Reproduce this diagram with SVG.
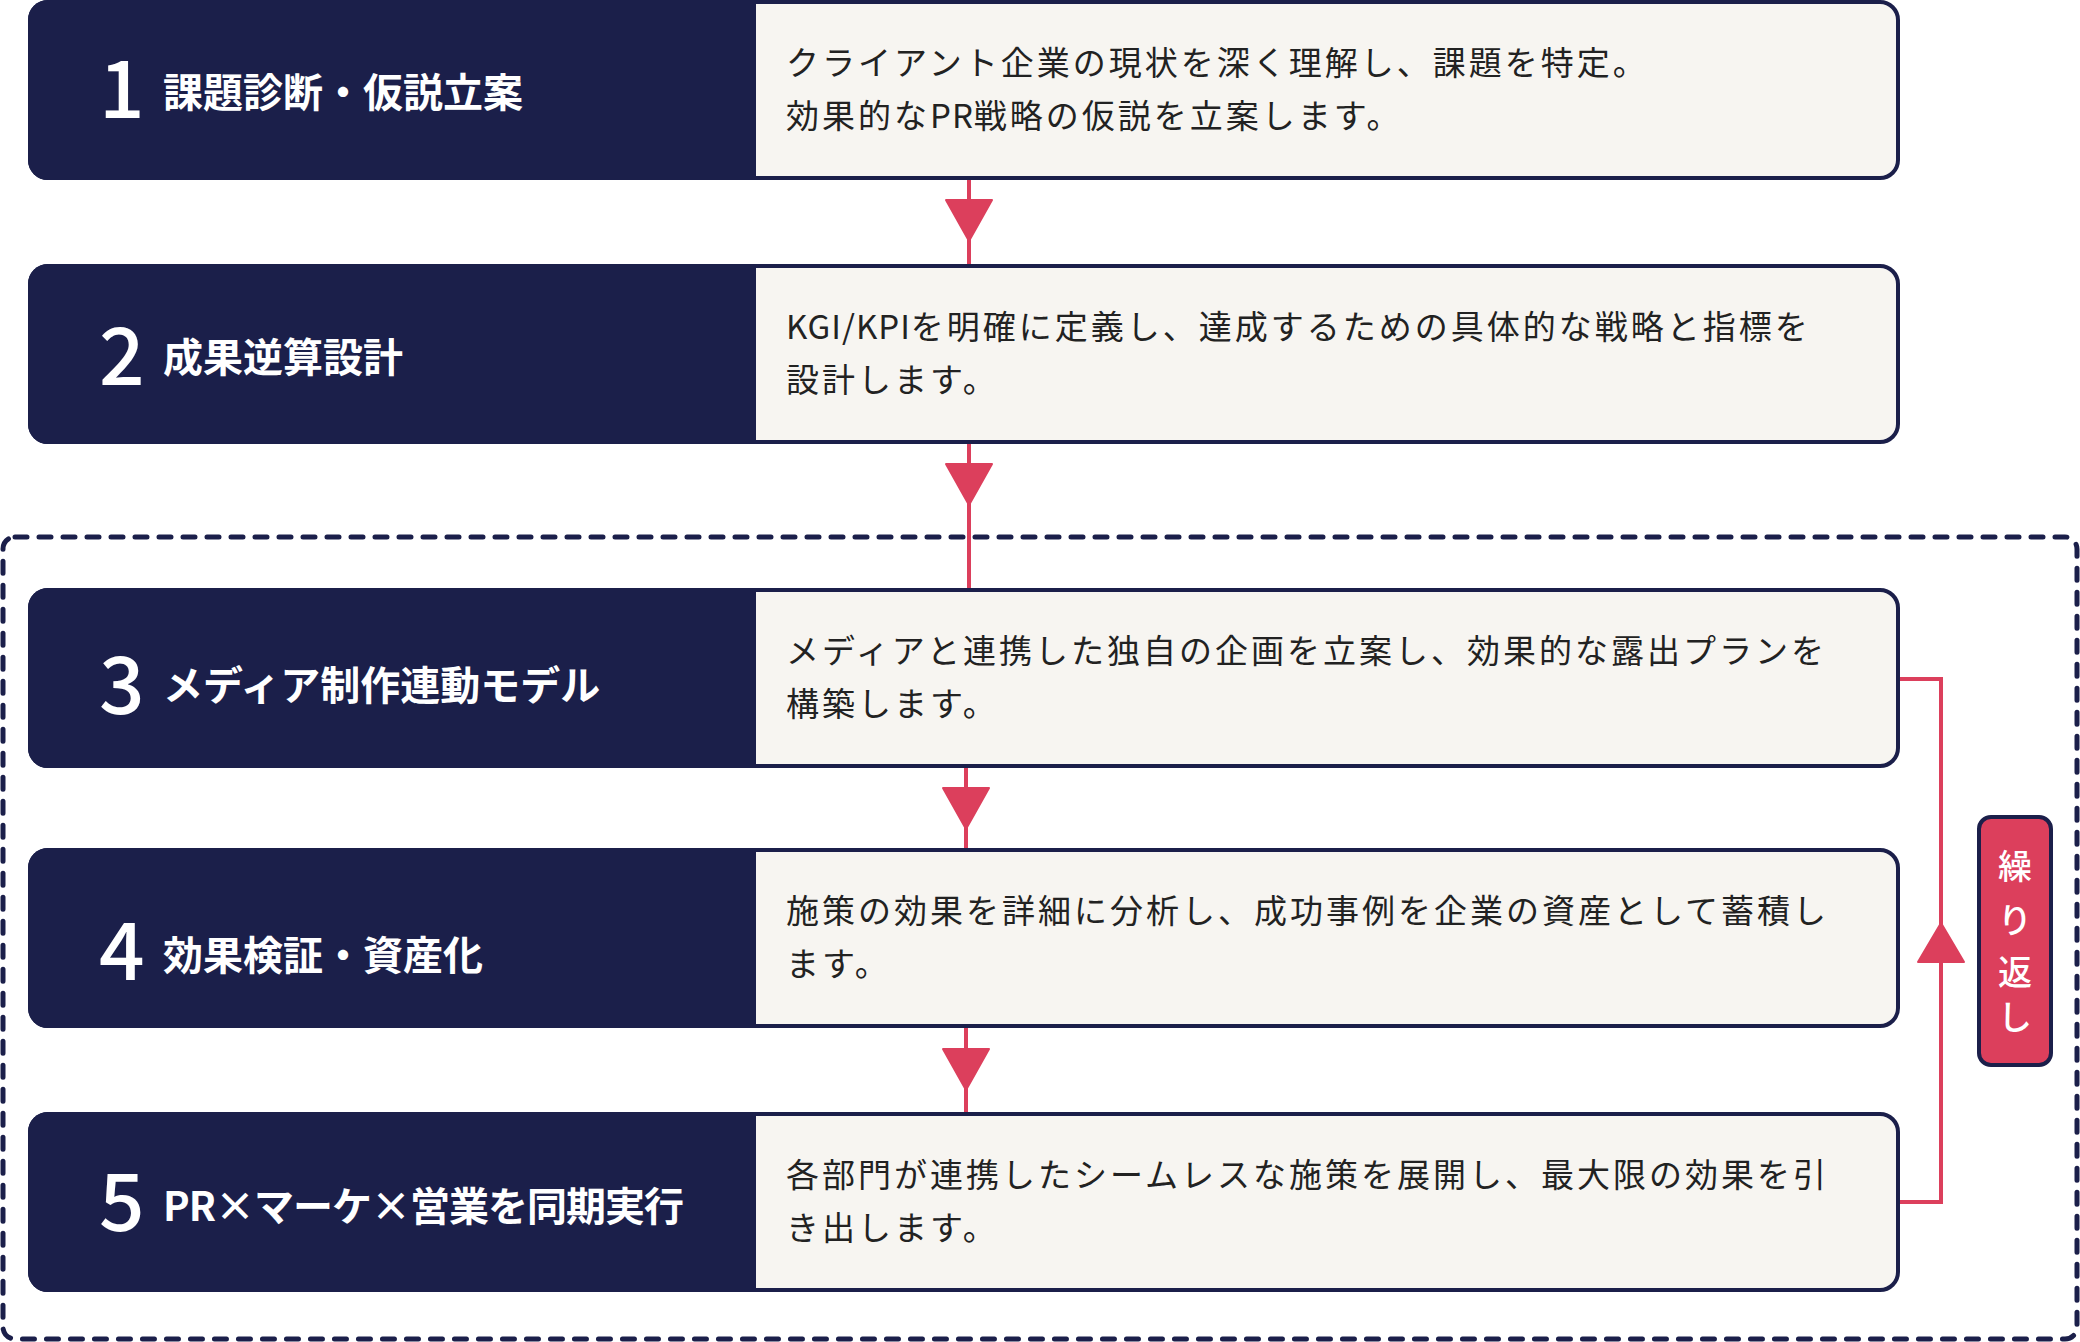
<svg xmlns="http://www.w3.org/2000/svg" width="2080" height="1342" viewBox="0 0 2080 1342">
<style>
.panel{fill:#F7F5F1;stroke:#1B1F4A;stroke-width:4}
.dark{fill:#1B1F4A}
.num{font-family:"Noto Sans CJK JP","Noto Sans",sans-serif;font-size:80px;font-weight:500;fill:#FFFFFF}
.title{font-family:"Noto Sans CJK JP",sans-serif;font-size:40px;font-weight:700;fill:#FFFFFF}
.desc{font-family:"Noto Sans CJK JP",sans-serif;font-size:33px;font-weight:400;fill:#222222;letter-spacing:3px}
.lat{letter-spacing:1px}
.conn{stroke:#DC3F5C;stroke-width:4;fill:none}
.head{fill:#DC3F5C;stroke:#DC3F5C;stroke-width:2;stroke-linejoin:round}
.badge{fill:#DC3F5C;stroke:#1B1F4A;stroke-width:4}
.btxt{font-family:"Noto Sans CJK JP",sans-serif;font-size:34px;font-weight:500;fill:#FFFFFF;text-anchor:middle}
</style>
<rect width="2080" height="1342" fill="#FFFFFF"/>
<rect id="loop-frame" x="3" y="537" width="2074" height="802" rx="12" fill="none" stroke="#1B1F4A" stroke-width="5" stroke-dasharray="12 12" stroke-linecap="round"/>
<g id="connectors">
<line class="conn" x1="969" y1="178" x2="969" y2="266"/>
<polygon class="head" points="946,200 992,200 969,241"/>
<line class="conn" x1="969" y1="442" x2="969" y2="590"/>
<polygon class="head" points="946,464 992,464 969,505"/>
<line class="conn" x1="966" y1="766" x2="966" y2="850"/>
<polygon class="head" points="943,788 989,788 966,829"/>
<line class="conn" x1="966" y1="1026" x2="966" y2="1114"/>
<polygon class="head" points="943,1049 989,1049 966,1090"/>
<path class="conn" d="M1898 679 H1941 V1202 H1898"/>
<polygon class="head" points="1918,962 1964,962 1941,923"/>
</g>
<g id="node1">
<rect class="panel" x="30" y="2" width="1868" height="176" rx="18"/>
<path class="dark" d="M48 0 H756 V180 H48 A20 20 0 0 1 28 160 V20 A20 20 0 0 1 48 0 Z"/>
<text class="num" x="99" y="118">1</text>
<text class="title" x="163" y="107">課題診断・仮説立案</text>
<text class="desc" x="786" y="74.5">クライアント企業の現状を深く理解し、課題を特定。</text>
<text class="desc" x="786" y="127.5">効果的な<tspan class="lat">PR</tspan>戦略の仮説を立案します。</text>
</g>
<g id="node2">
<rect class="panel" x="30" y="266" width="1868" height="176" rx="18"/>
<path class="dark" d="M48 264 H756 V444 H48 A20 20 0 0 1 28 424 V284 A20 20 0 0 1 48 264 Z"/>
<text class="num" x="99" y="385">2</text>
<text class="title" x="163" y="372">成果逆算設計</text>
<text class="desc" x="786" y="338.5"><tspan class="lat">KGI/KPI</tspan>を明確に定義し、達成するための具体的な戦略と指標を</text>
<text class="desc" x="786" y="391.5">設計します。</text>
</g>
<g id="node3">
<rect class="panel" x="30" y="590" width="1868" height="176" rx="18"/>
<path class="dark" d="M48 588 H756 V768 H48 A20 20 0 0 1 28 748 V608 A20 20 0 0 1 48 588 Z"/>
<text class="num" x="99" y="714">3</text>
<text class="title" x="163" y="700">メディア制作連動モデル</text>
<text class="desc" x="786" y="662.5">メディアと連携した独自の企画を立案し、効果的な露出プランを</text>
<text class="desc" x="786" y="715.5">構築します。</text>
</g>
<g id="node4">
<rect class="panel" x="30" y="850" width="1868" height="176" rx="18"/>
<path class="dark" d="M48 848 H756 V1028 H48 A20 20 0 0 1 28 1008 V868 A20 20 0 0 1 48 848 Z"/>
<text class="num" x="99" y="980">4</text>
<text class="title" x="163" y="970">効果検証・資産化</text>
<text class="desc" x="786" y="922.5">施策の効果を詳細に分析し、成功事例を企業の資産として蓄積し</text>
<text class="desc" x="786" y="975.5">ます。</text>
</g>
<g id="node5">
<rect class="panel" x="30" y="1114" width="1868" height="176" rx="18"/>
<path class="dark" d="M48 1112 H756 V1292 H48 A20 20 0 0 1 28 1272 V1132 A20 20 0 0 1 48 1112 Z"/>
<text class="num" x="99" y="1231">5</text>
<text class="title" x="163" y="1221" style="letter-spacing:-1px">PR×マーケ×営業を同期実行</text>
<text class="desc" x="786" y="1186.5">各部門が連携したシームレスな施策を展開し、最大限の効果を引</text>
<text class="desc" x="786" y="1239.5">き出します。</text>
</g>
<g id="badge">
<rect class="badge" x="1979" y="817" width="72" height="248" rx="12"/>
<text class="btxt" x="2015" y="879">繰</text>
<text class="btxt" x="2015" y="933">り</text>
<text class="btxt" x="2015" y="985">返</text>
<text class="btxt" x="2015" y="1030">し</text>
</g>
</svg>
